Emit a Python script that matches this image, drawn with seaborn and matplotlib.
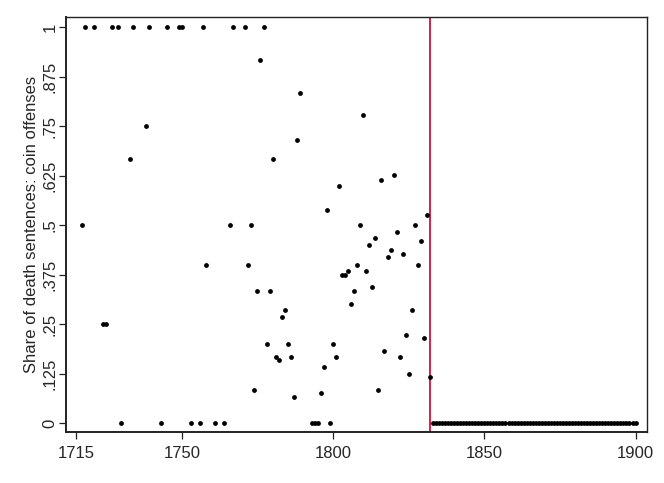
import numpy as np
import pandas as pd
import matplotlib
matplotlib.use("Agg")
import matplotlib.pyplot as plt
import seaborn as sns

# Data: year and share of death sentences for coin offenses
years_pre = [1717, 1718, 1721, 1724, 1725, 1727, 1729, 1730, 1733, 1734,
             1738, 1739, 1743, 1745, 1749, 1750, 1753, 1756, 1757, 1758,
             1761, 1764, 1766, 1767, 1771, 1772, 1773, 1774, 1775, 1776,
             1777, 1778, 1779, 1780, 1781, 1782, 1783, 1784, 1785, 1786,
             1787, 1788, 1789, 1793, 1794, 1795, 1796, 1797, 1798, 1799,
             1800, 1801, 1802, 1803, 1804, 1805, 1806, 1807, 1808, 1809,
             1810, 1811, 1812, 1813, 1814, 1815, 1816, 1817, 1818, 1819,
             1820, 1821, 1822, 1823, 1824, 1825, 1826, 1827, 1828, 1829,
             1830, 1831, 1832]
share_pre = [0.5, 1, 1, 0.25, 0.25, 1, 1, 0, 0.667, 1,
             0.75, 1, 0, 1, 1, 1, 0, 0, 1, 0.4,
             0, 0, 0.5, 1, 1, 0.4, 0.5, 0.083, 0.333, 0.917,
             1, 0.2, 0.333, 0.667, 0.167, 0.16, 0.267, 0.286, 0.2, 0.167,
             0.067, 0.714, 0.833, 0, 0, 0, 0.077, 0.143, 0.538, 0,
             0.2, 0.167, 0.6, 0.375, 0.375, 0.385, 0.3, 0.333, 0.4, 0.5,
             0.778, 0.385, 0.45, 0.345, 0.467, 0.083, 0.615, 0.182, 0.42, 0.437,
             0.627, 0.483, 0.167, 0.428, 0.222, 0.125, 0.286, 0.5, 0.4, 0.461,
             0.214, 0.526, 0.118]

# After 1832 every year is zero
years_post = list(range(1833, 1901))
share_post = [0] * len(years_post)

policy_year = 1832

x_ticks = [1715, 1750, 1800, 1850, 1900]
y_ticks = [0, 0.125, 0.25, 0.375, 0.5, 0.625, 0.75, 0.875, 1]
y_labels = ["0", ".125", ".25", ".375", ".5", ".625", ".75", ".875", "1"]

df = pd.DataFrame({"year": years_pre + years_post,
                   "share": share_pre + share_post})

sns.set_style("ticks")
plt.rcParams["font.family"] = ["Liberation Sans", "DejaVu Sans"]

fig = plt.figure(figsize=(6.64, 4.83), dpi=100)
ax = fig.add_axes([0.0994, 0.1056, 0.8746, 0.8598])

# Red vertical line at the policy year, drawn under the dots
ax.axvline(policy_year, color="#d0103a", lw=1.3, zorder=1)

sns.scatterplot(data=df, x="year", y="share", ax=ax, color="black",
                s=12, linewidth=0, zorder=3, legend=False)

ax.set_xlim(1711.7, 1903.7)
ax.set_ylim(-0.022, 1.026)
ax.set_xticks(x_ticks)
ax.set_yticks(y_ticks)
ax.set_yticklabels(y_labels, rotation=90, va="center")

ax.set_xlabel("")
ax.set_ylabel("Share of death sentences: coin offenses", fontsize=12, labelpad=3)
ax.tick_params(axis="both", labelsize=12, length=5, width=0.9, color="#222222",
               direction="out")
ax.tick_params(axis="x", pad=5)
ax.tick_params(axis="y", pad=1)

for side in ["left", "bottom", "top", "right"]:
    ax.spines[side].set_visible(True)
    ax.spines[side].set_color("#222222")
    ax.spines[side].set_linewidth(1.0)
ax.spines["left"].set_linewidth(1.4)
ax.spines["bottom"].set_linewidth(1.4)

fig.savefig("out.png", dpi=100)
